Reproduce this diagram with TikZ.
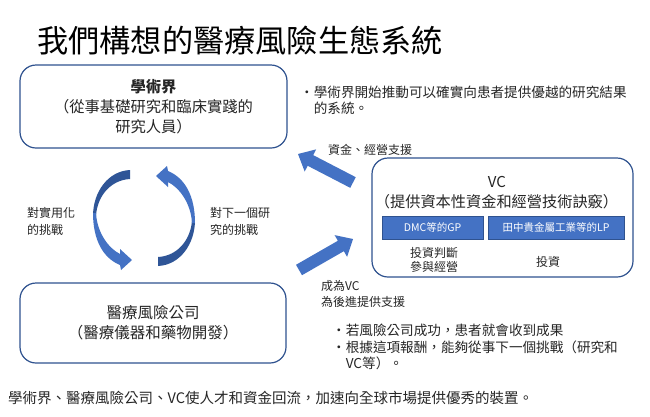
\documentclass[tikz,border=0pt]{standalone}
\usepackage{fontspec}
\setmainfont{Noto Sans CJK TC}
\usetikzlibrary{calc}
\definecolor{arrowblue}{RGB}{68,114,196}
\definecolor{darkblue}{RGB}{47,85,151}
\definecolor{boxline}{RGB}{47,82,143}
\definecolor{txt}{RGB}{38,38,38}
\newcommand\circarrow{%
 \fill[darkblue] (130,170) .. controls (108,171) and (93,192) .. (93,216) -- (96,216) .. controls (97,197) and (110,180) .. (130,179) -- cycle;
 \fill[arrowblue] (93,213) .. controls (93,240) and (103,258) .. (120,265) -- (121,270) -- (132,260) -- (120,249) -- (120,254) .. controls (108,248) and (97,232) .. (96,213) -- cycle;}
\begin{document}
\begin{tikzpicture}[x=1pt,y=-1pt,
  box/.style={draw=boxline,line width=1.2pt,rounded corners=16pt,inner sep=0pt,align=center,text=txt},
  txtnode/.style={inner sep=0pt,text=txt},
  lab/.style={txtnode,font=\fontsize{12}{17}\selectfont,align=left},
  bullet/.style={txtnode,anchor=west,font=\fontsize{13.6}{16}\selectfont},
  tag/.style={draw=boxline,line width=0.6pt,fill=arrowblue,text=white,inner sep=0pt,minimum height=23pt,font=\fontsize{10.5}{12}\selectfont}]
\fill[white] (0,0) rectangle (650,416);
\useasboundingbox (0,0) rectangle (650,416);

% title
\node[txtnode,text=black,anchor=west,font=\fontsize{31.2}{36}\selectfont] (title) at (37,41) {我們構想的醫療風險生態系統};

% boxes
\node[box,minimum width=267pt,minimum height=83pt,font=\fontsize{15.3}{20}\selectfont] (acad) at (153.5,106.5)
  {{\bfseries 學術界}\\（從事基礎研究和臨床實踐的\\研究人員）};
\node[box,minimum width=266pt,minimum height=80pt,font=\fontsize{15.5}{20}\selectfont] (med) at (153,323)
  {醫療風險公司\\（醫療儀器和藥物開發）};
\node[box,minimum width=261pt,minimum height=119pt] (vc) at (502.5,217.5) {};
\node[txtnode,font=\fontsize{15}{18}\selectfont] (vct) at (497,182) {VC};
\node[txtnode,font=\fontsize{15.2}{18}\selectfont] (vcs) at (496.5,202) {（提供資本性資金和經營技術訣竅）};
\node[tag,minimum width=101pt] (gp) at (432.5,227.5) {DMC等的GP};
\node[tag,minimum width=136pt] (lp) at (556,227.5) {田中貴金屬工業等的LP};
\node[lab,align=center,font=\fontsize{12}{14.5}\selectfont] (jd) at (434,260) {投資判斷\\參與經營};
\node[lab] (inv) at (548,262) {投資};

% circular arrows
\circarrow
\begin{scope}[rotate around={180:(144,218)}]
\circarrow
\end{scope}
\node[lab,anchor=west] (lbl1) at (27,221.5) {對實用化\\的挑戰};
\node[lab,anchor=west] (lbl2) at (210,221.5) {對下一個研\\究的挑戰};

% straight block arrows
\coordinate (uT) at (353,182.5);
\coordinate (uP) at (298,154);
\coordinate (uB) at ($(uP)!14pt!(uT)$);
\fill[arrowblue] ($(uT)!6pt!90:(uP)$) -- ($(uB)!6pt!90:(uP)$) -- ($(uB)!12.5pt!90:(uP)$) -- (uP) -- ($(uB)!12.5pt!-90:(uP)$) -- ($(uB)!6pt!-90:(uP)$) -- ($(uT)!6pt!-90:(uP)$) -- cycle;
\coordinate (lT) at (299,270);
\coordinate (lP) at (353,239);
\coordinate (lB) at ($(lP)!14pt!(lT)$);
\fill[arrowblue] ($(lT)!6pt!90:(lP)$) -- ($(lB)!6pt!90:(lP)$) -- ($(lB)!12.5pt!90:(lP)$) -- (lP) -- ($(lB)!12.5pt!-90:(lP)$) -- ($(lB)!6pt!-90:(lP)$) -- ($(lT)!6pt!-90:(lP)$) -- cycle;
\node[lab,anchor=west] (fund) at (328,150) {資金、經營支援};
\node[lab,anchor=west,font=\fontsize{12}{16}\selectfont] (become) at (321,294) {成為VC\\為後進提供支援};

% bullets
\node[bullet] (b1) at (300,92) {・學術界開始推動可以確實向患者提供優越的研究結果};
\node[bullet] (b1b) at (313.6,108) {的系統。};
\node[bullet] (b2) at (332,330) {・若風險公司成功，患者就會收到成果};
\node[bullet] (b3) at (332,347) {・根據這項報酬，能夠從事下一個挑戰（研究和};
\node[bullet] (b3b) at (345.6,363) {VC等）。};

% bottom line
\node[txtnode,anchor=west,font=\fontsize{14.5}{16}\selectfont] (foot) at (8,398) {學術界、醫療風險公司、VC使人才和資金回流，加速向全球市場提供優秀的裝置。};
\end{tikzpicture}
\end{document}
